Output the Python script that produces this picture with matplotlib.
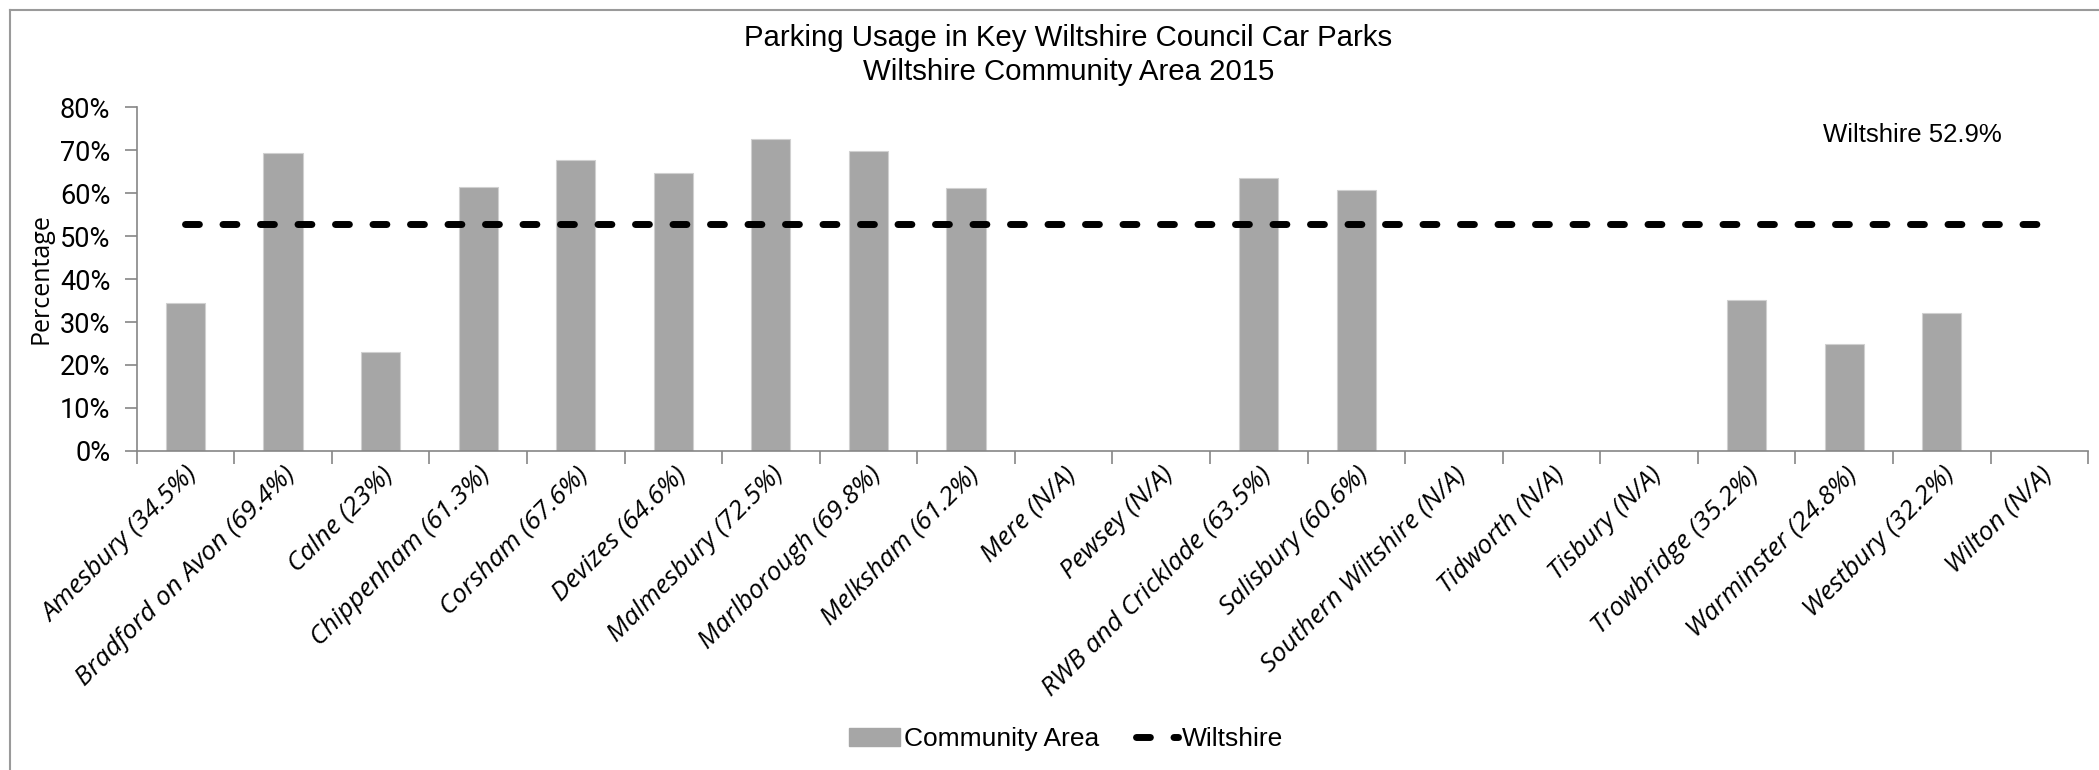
import numpy as np
import matplotlib.pyplot as plt
import matplotlib.transforms as mtrans
from matplotlib import font_manager
from matplotlib.legend_handler import HandlerLine2D
from matplotlib.lines import Line2D
from matplotlib.patches import Patch

# Community areas and their parking usage (None = N/A)
areas = ["Amesbury", "Bradford on Avon", "Calne", "Chippenham", "Corsham",
         "Devizes", "Malmesbury", "Marlborough", "Melksham", "Mere",
         "Pewsey", "RWB and Cricklade", "Salisbury", "Southern Wiltshire",
         "Tidworth", "Tisbury", "Trowbridge", "Warminster", "Westbury", "Wilton"]
usage = [34.5, 69.4, 23, 61.3, 67.6, 64.6, 72.5, 69.8, 61.2, None,
         None, 63.5, 60.6, None, None, None, 35.2, 24.8, 32.2, None]
wiltshire_avg = 52.9

labels = [f"{a} ({u:g}%)" if u is not None else f"{a} (N/A)" for a, u in zip(areas, usage)]
values = np.array([u if u is not None else 0 for u in usage]) / 100

plain = "Liberation Sans"
# condensed face for the y ticks if it is there, otherwise Roboto (narrow digits)
try:
    font_manager.findfont("Liberation Sans Narrow", fallback_to_default=False)
    tick_font, tick_size = "Liberation Sans Narrow", 20
except ValueError:
    tick_font, tick_size = "Roboto", 19.5

fig = plt.figure(figsize=(20.99, 7.70), dpi=100)
ax = fig.add_axes([0.0651, 0.4143, 0.9297, 0.4467])

x = np.arange(len(areas))
ax.bar(x, values, width=0.4, color="#A6A6A6", edgecolor="#D0D0D0", linewidth=0.8)
ax.plot(x, [wiltshire_avg / 100] * len(x), color="black", linewidth=5,
        dashes=(2.0, 3.4), dash_capstyle="round")

ax.set_xlim(-0.5, len(areas) - 0.5)
ax.set_ylim(0, 0.8)
ax.set_yticks(np.arange(0, 0.81, 0.1))
ax.set_yticklabels([f"{int(round(v * 100))}%" for v in np.arange(0, 0.81, 0.1)],
                   fontfamily=tick_font, fontsize=tick_size)
ax.set_xticks(x)
ax.set_xticklabels(labels, rotation=45, ha="right", va="top", rotation_mode="anchor",
                   fontfamily="Open Sans", fontstyle="italic", fontsize=19)
# nudge the slanted labels a little to the right, as in the original
shift = mtrans.ScaledTranslation(6 / 72, 0, fig.dpi_scale_trans)
for lbl in ax.get_xticklabels():
    lbl.set_transform(lbl.get_transform() + shift)
ax.set_xticks(np.arange(-0.5, len(areas)), minor=True)
ax.tick_params(axis="x", which="major", length=0, pad=8)
ax.tick_params(axis="x", which="minor", length=9, width=1.2, color="#868686")
ax.tick_params(axis="y", length=9, width=1.2, color="#868686", pad=10)

for side in ["top", "right"]:
    ax.spines[side].set_visible(False)
for side in ["left", "bottom"]:
    ax.spines[side].set_color("#868686")
    ax.spines[side].set_linewidth(1.2)

ax.set_ylabel("Percentage", fontfamily="Open Sans", fontsize=18)
ax.yaxis.set_label_coords(-0.0425, 0.5)

ax.text(16.78, 0.735, f"Wiltshire {wiltshire_avg}%", fontfamily=plain,
        fontsize=18.5, ha="left", va="center")

fig.text(0.509, 0.9286, "Parking Usage in Key Wiltshire Council Car Parks\nWiltshire Community Area 2015",
         fontfamily=plain, fontsize=21.2, ha="center", va="center", linespacing=1.25)

handles = [Patch(facecolor="#A6A6A6", edgecolor="#A6A6A6", label="Community Area"),
           Line2D([0], [0], color="black", linewidth=5, dashes=(2.0, 3.4),
                  dash_capstyle="round", label="Wiltshire")]
fig.legend(handles=handles, loc="center", bbox_to_anchor=(0.508, 0.04), ncol=2,
           frameon=False, prop={"family": plain, "size": 19},
           handlelength=1.9, handletextpad=0.15, columnspacing=1.1,
           handler_map={handles[1]: HandlerLine2D(xpad=0.3)})

# border on the left and top edges of the chart area
fig.add_artist(Line2D([10 / 2099, 10 / 2099], [0, 1 - 10 / 770], color="#9A9A9A",
                      linewidth=1.5, transform=fig.transFigure))
fig.add_artist(Line2D([10 / 2099, 1], [1 - 10 / 770, 1 - 10 / 770], color="#9A9A9A",
                      linewidth=1.5, transform=fig.transFigure))

fig.savefig("out.png", dpi=100)
